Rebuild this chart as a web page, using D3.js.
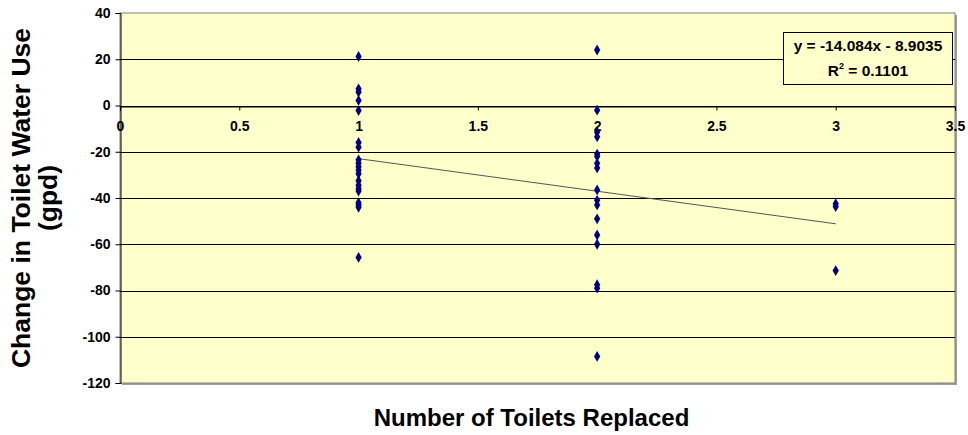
<!DOCTYPE html>
<!-- scatter of toilet water use change vs toilets replaced, with linear trendline -->
<html>
<head>
<meta charset="utf-8">
<style>
  body { margin: 0; background: #fff; }
  text { font-family: Arial, "Liberation Sans", sans-serif; font-weight: bold; fill: #000; }
</style>
</head>
<body>
<div id="chart_div"></div>
<script src="https://d3js.org/d3.v7.min.js"></script>
<script>

// data
let ones = [21.2, 7.2, 5.8, 2.2, -2.2, -16, -18, -23.5, -25, -26.5, -28, -29.5,
            -32.5, -34.5, -36, -37, -42, -43, -44, -65.7];
let twos = [24, -2, -11.5, -13.5, -21, -22, -25, -27, -36.5, -41, -43, -49,
            -56, -60, -77.5, -79, -108.5];
let threes = [-42.5, -43.7, -71.4];
let x_ticks = [0, 0.5, 1, 1.5, 2, 2.5, 3, 3.5];
let y_ticks = [40, 20, 0, -20, -40, -60, -80, -100, -120];
let slope = -14.084, intercept = -8.9035, r2 = 0.1101;

let points = [];
ones.forEach(v => points.push({x: 1, y: v}));
twos.forEach(v => points.push({x: 2, y: v}));
threes.forEach(v => points.push({x: 3, y: v}));

let margin = {top: 13, right: 13, bottom: 52, left: 120},
    container_width = 968,
    container_height = 435,
    graph_width = container_width - margin.left - margin.right,
    graph_height = container_height - margin.top - margin.bottom;

let svg = d3.select("#chart_div")
  .append("svg")
    .attr("width", container_width)
    .attr("height", container_height);

let g = svg.append("g")
    .attr("transform", "translate(" + margin.left + "," + margin.top + ")");

let x = d3.scaleLinear().domain([0, 3.5]).range([0, graph_width]);
let y = d3.scaleLinear().domain([-120, 40]).range([graph_height, 0]);

// plot area with shadow
g.append("rect")
    .attr("x", 2).attr("y", 2)
    .attr("width", graph_width).attr("height", graph_height)
    .attr("fill", "#a0a0a0");
g.append("rect")
    .attr("x", 0).attr("y", 0)
    .attr("width", graph_width).attr("height", graph_height)
    .attr("fill", "#ffffcc")
    .attr("stroke", "#808080");

// gridlines
g.selectAll(".grid")
  .data(y_ticks.filter(d => d !== 40 && d !== -120))
  .enter()
  .append("line")
    .attr("x1", 0).attr("x2", graph_width)
    .attr("y1", d => Math.round(y(d)) + 0.5)
    .attr("y2", d => Math.round(y(d)) + 0.5)
    .attr("stroke", "#000");

// y axis
let y_axis = g.append("g")
    .attr("transform", "translate(0.5,0)")
    .call(d3.axisLeft(y).tickValues(y_ticks).tickSize(5).tickPadding(5).tickFormat(d => String(d)));
y_axis.selectAll("text").style("font-size", "14px");
y_axis.select(".domain").attr("stroke", "#000");

// x axis at zero
let x_axis = g.append("g")
    .attr("transform", "translate(0," + (Math.round(y(0)) + 0.5) + ")")
    .call(d3.axisBottom(x).tickValues(x_ticks).tickSize(4).tickPadding(11)
      .tickFormat(d => String(d)));
x_axis.selectAll("text").style("font-size", "14px");
x_axis.select(".domain").attr("stroke", "#000");

// trendline
g.append("line")
    .attr("x1", x(1)).attr("y1", y(slope * 1 + intercept))
    .attr("x2", x(3)).attr("y2", y(slope * 3 + intercept))
    .attr("stroke", "#555")
    .attr("stroke-width", 1);

// points
g.selectAll(".pt")
  .data(points)
  .enter()
  .append("path")
    .attr("class", "pt")
    .attr("d", d3.symbol().type(d3.symbolDiamond).size(34))
    .attr("transform", d => "translate(" + x(d.x) + "," + y(d.y) + ")")
    .attr("fill", "#000080");

// equation box
let box = svg.append("g").attr("transform", "translate(783,32)");
box.append("rect")
    .attr("x", 0.5).attr("y", 0.5)
    .attr("width", 169).attr("height", 52)
    .attr("fill", "#ffffcc")
    .attr("stroke", "#000");
box.append("text")
    .attr("x", 85).attr("y", 19)
    .attr("text-anchor", "middle")
    .style("font-size", "15.5px")
    .text("y = " + slope + "x - " + Math.abs(intercept));
let r_line = box.append("text")
    .attr("x", 85).attr("y", 44)
    .attr("text-anchor", "middle")
    .style("font-size", "15.5px");
r_line.append("tspan").text("R");
r_line.append("tspan").attr("dy", -7).style("font-size", "9px").text("2");
r_line.append("tspan").attr("dy", 7).text(" = " + r2);

// axis titles
svg.append("text")
    .attr("x", margin.left + graph_width / 2 - 6)
    .attr("y", 426)
    .attr("text-anchor", "middle")
    .style("font-size", "24px")
    .text("Number of Toilets Replaced");

let ytitle = svg.append("text")
    .attr("transform", "translate(30," + (margin.top + graph_height / 2) + ") rotate(-90)")
    .attr("text-anchor", "middle")
    .style("font-size", "26.5px");
ytitle.append("tspan").attr("x", 0).attr("y", 0).text("Change in Toilet Water Use");
ytitle.append("tspan").attr("x", 0).attr("y", 27).text("(gpd)");

</script>
</body>
</html>
